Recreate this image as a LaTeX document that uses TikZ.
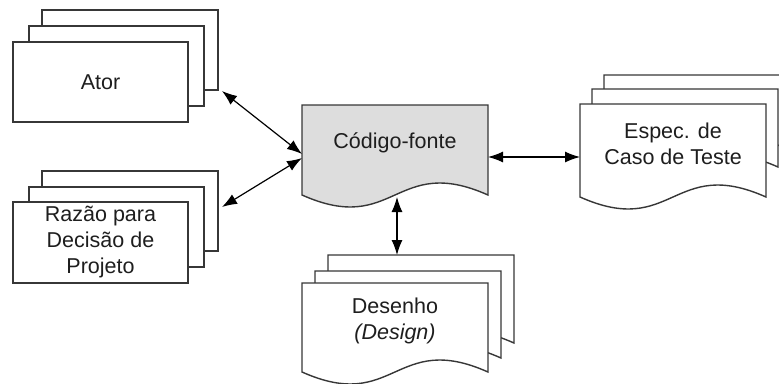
\documentclass[tikz,border=0pt]{standalone}
\usepackage{fontspec}
\setmainfont{Liberation Sans}
\usetikzlibrary{arrows.meta}
\definecolor{edgecol}{RGB}{55,55,55}
\definecolor{codefill}{RGB}{221,221,221}
\definecolor{txtcol}{RGB}{30,30,30}
% rectangle layer: x y w h
\newcommand{\DrawBoxLayer}[4]{\filldraw[layer] (#1,#2) rectangle ({#1+#3},{#2+#4});}
% document layer: x y w h options
\newcommand{\DrawDocLayer}[5]{\filldraw[layer,#5] (#1,#2) -- ({#1+#3},#2) -- ({#1+#3},{#2+#4}) .. controls ({#1+#3/2},{#2+#4-41.5}) and ({#1+#3/2},{#2+#4+41.5}) .. (#1,{#2+#4}) -- cycle;}
\begin{document}
\begin{tikzpicture}[x=1pt,y=-1pt,
  layer/.style={draw=edgecol,fill=white,line width=1.4pt,line join=miter},
  lbl/.style={text=txtcol,align=center,font=\fontsize{21.5}{26}\selectfont,inner sep=0pt},
  boxnode/.style={lbl,draw=edgecol,fill=white,line width=1.4pt,minimum width=175pt,minimum height=80pt},
  conn/.style={{Latex[length=15pt,width=11pt]}-{Latex[length=15pt,width=11pt]},line width=1.2pt,black}]
\useasboundingbox (0,0) rectangle (779,383);
\clip (0,0) rectangle (779,383);

% Ator stack
\DrawBoxLayer{42}{10}{176}{80}
\DrawBoxLayer{29}{26}{175}{80}
\node[boxnode] (ator) at (100.5,82) {Ator};

% Razao stack
\DrawBoxLayer{42}{171}{176}{80}
\DrawBoxLayer{29}{187}{175}{80}
\node[boxnode,minimum height=81pt] (razao) at (100.5,242.5) {Razão para\\Decisão de\\Projeto};

% Codigo-fonte
\DrawDocLayer{302}{105}{186}{90}{fill=codefill}
\node[lbl] (codigo) at (395,143) {Código-fonte};

% Espec stack
\DrawDocLayer{604}{75}{186}{75}{}
\DrawDocLayer{592}{89}{186}{78}{}
\DrawDocLayer{580}{104}{186}{93}{}
\node[lbl] (espec) at (673,143.5) {Espec. de\\Caso de Teste};

% Desenho stack
\DrawDocLayer{328}{255}{186}{88}{}
\DrawDocLayer{315}{271}{186}{87}{}
\DrawDocLayer{302}{283}{186}{89}{}
\node[lbl] (desenho) at (395,321) {Desenho\\\textit{(Design)}};

% connector end points
\coordinate (atorP) at (222,91);
\coordinate (razaoP) at (222,207);
\coordinate (codW1) at (302,154);
\coordinate (codW2) at (302,158);
\coordinate (codE) at (488,157);
\coordinate (codS) at (397,197);
\coordinate (especW) at (580,157);
\coordinate (desN) at (397,255);

\draw[conn] (atorP) -- (codW1);
\draw[conn] (razaoP) -- (codW2);
\draw[conn] (codE) -- (especW);
\draw[conn] (codS) -- (desN);
\end{tikzpicture}
\end{document}
